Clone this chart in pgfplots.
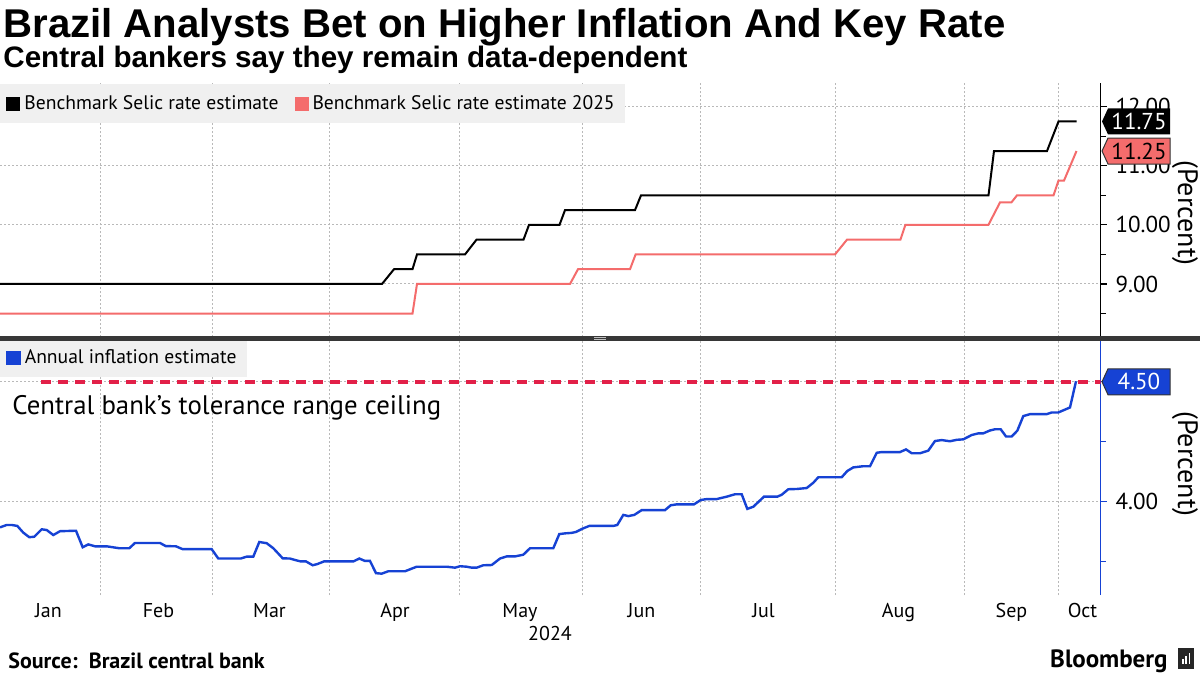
\documentclass[border=0pt]{standalone}
\usepackage{pgfplots}
\pgfplotsset{compat=1.18}
\usepackage{fontspec}
\setmainfont{PT Sans}
\setsansfont{PT Sans}
\newfontfamily\titlefont{Liberation Sans}

\definecolor{selicred}{RGB}{244,108,108}
\definecolor{bbblue}{RGB}{22,66,212}
\definecolor{ceilred}{RGB}{226,32,72}
\definecolor{gridgray}{RGB}{185,185,185}
\definecolor{legbg}{RGB}{240,240,240}
\definecolor{sepgray}{RGB}{55,55,55}

% common look of both panels (1 px of the reference = 0.5pt)
\pgfplotsset{
  panel/.style={
    scale only axis, width=550.3pt, height=127pt,
    xmin=0, xmax=1100.6,
    axis y line*=right, axis x line*=bottom,
    x axis line style={draw=none},
    xtick={100.6,212.3,329.3,459.3,582.6,700.7,835.3,964.3,1058.6},
    xticklabels={},
    xtick style={draw=none},
    grid=major,
    major grid style={gridgray, line width=0.5pt, dash pattern=on 1pt off 1pt},
    tick align=outside, major tick length=3pt, minor tick length=2.5pt,
    /pgf/number format/assume math mode=true,
    yticklabel={\pgfmathprintnumber[fixed,fixed zerofill,precision=2]{\tick}},
    yticklabel style={font=\fontsize{11.5}{12}\selectfont, anchor=west, xshift=1pt},
    legend cell align=left,
    legend image code/.code={\fill[##1] (0pt,-3pt) rectangle (6pt,3pt);},
  }
}

\begin{document}
\begin{tikzpicture}
\useasboundingbox (0,0) rectangle (600pt,-337.5pt);
\fill[white] (0,0) rectangle (600pt,-337.5pt);

\node[anchor=base west, inner sep=0] at (1.5pt,-18.5pt)
  {\resizebox{501pt}{!}{\titlefont\bfseries Brazil Analysts Bet on Higher Inflation And Key Rate}};
\node[anchor=base west, inner sep=0] at (1.5pt,-33.5pt)
  {\resizebox{342pt}{!}{\titlefont\bfseries Central bankers say they remain data-dependent}};

% ---------------- top panel: Selic expectations
\begin{axis}[panel,
  at={(0pt,-41.5pt)}, anchor=north west,
  ymin=8.103, ymax=12.401,
  ytick={9,10,11,12}, minor ytick={8.5,9.5,10.5,11.5},
  y axis line style={black, line width=0.7pt},
  ytick style={black, line width=0.6pt},
  legend columns=2,
  legend style={at={(0,1)}, anchor=north west, yshift=-0.5pt,
    fill=legbg, draw=none, font=\fontsize{9.8}{11}\selectfont,
    inner xsep=3pt, inner ysep=3.5pt,
    /tikz/every even column/.append style={column sep=6pt}},
]
\addplot[color=black, line width=1pt] coordinates {
  (0,9) (382,9) (394,9.25) (412.5,9.25) (417,9.5) (465,9.5) (476.5,9.75)
  (523.5,9.75) (529,10) (559.5,10) (565,10.25) (635,10.25) (641,10.5)
  (988.5,10.5) (994,11.25) (1047,11.25) (1058.5,11.75) (1076.5,11.75)
};
\addlegendentry{Benchmark Selic rate estimate}
\addplot[color=selicred, line width=1pt] coordinates {
  (0,8.5) (412.5,8.5) (417,9) (570,9) (578,9.25) (630,9.25) (635.6,9.5)
  (835,9.5) (847,9.75) (900.4,9.75) (905.4,10) (988.4,10) (1000,10.38)
  (1011.4,10.38) (1017,10.5) (1053.5,10.5) (1058.5,10.75) (1064,10.75)
  (1076.5,11.25)
};
\addlegendentry{Benchmark Selic rate estimate 2025}
\coordinate (tagA) at (axis cs:1100.6,11.75);
\coordinate (tagB) at (axis cs:1100.6,11.25);
\end{axis}

% ---------------- bottom panel: inflation expectations
\begin{axis}[panel,
  at={(0pt,-170.5pt)}, anchor=north west,
  ymin=3.611, ymax=4.670,
  ytick={4,4.5}, minor ytick={3.75,4.25},
  y axis line style={bbblue, line width=0.7pt},
  ytick style={bbblue, line width=0.6pt},
  extra x ticks={48.5,158.5,269.5,395,520,641.5,763.5,898.5,1011.5,1082.5},
  extra x tick labels={Jan,Feb,Mar,Apr,May,Jun,Jul,Aug,Sep,Oct},
  extra x tick style={grid=none, major tick length=0pt},
  xticklabel style={anchor=base, yshift=-11pt, font=\fontsize{10}{12}\selectfont},
  legend style={at={(0,1)}, anchor=north west, yshift=1.5pt,
    fill=legbg, draw=none, font=\fontsize{9.8}{11}\selectfont,
    inner xsep=3pt, inner ysep=3.5pt},
]
\addplot[ceilred, line width=2pt, dash pattern=on 5pt off 3.5pt, forget plot]
  coordinates {(41,4.5) (1100.6,4.5)};
\addplot[color=bbblue, line width=1.2pt] coordinates {
  (0,3.893) (6.7,3.903) (11.7,3.903) (17.3,3.899) (23.3,3.871) (29.3,3.852)
  (34.3,3.854) (41.7,3.885) (46.7,3.882) (53.3,3.861) (60,3.877) (76,3.879)
  (82.7,3.810) (88.3,3.822) (95,3.814) (106.7,3.814) (119.3,3.806)
  (129.3,3.806) (135,3.828) (160,3.828) (165.7,3.815) (176,3.814)
  (182.7,3.802) (211.7,3.802) (218.3,3.763) (240.7,3.763) (246.7,3.771)
  (253.3,3.771) (259.3,3.832) (266.7,3.827) (273.3,3.806) (282.7,3.764)
  (290,3.763) (295,3.757) (300.7,3.751) (306,3.751) (312.7,3.735)
  (317.3,3.740) (324,3.751) (353.3,3.751) (359.3,3.763) (365,3.753)
  (370,3.753) (376,3.702) (381.7,3.700) (388.3,3.710) (405,3.710)
  (416.7,3.729) (446.7,3.729) (455,3.725) (460,3.731) (466.7,3.729)
  (471.7,3.725) (476.7,3.725) (483.3,3.735) (491.7,3.736) (500,3.763)
  (506.7,3.772) (515,3.772) (523.3,3.779) (530,3.806) (553.3,3.806)
  (559.3,3.865) (565,3.868) (571.7,3.870) (576,3.874) (582.7,3.888)
  (589.3,3.899) (613.3,3.899) (617.3,3.903) (623.3,3.945) (628.3,3.940)
  (634.3,3.945) (641.7,3.965) (665,3.965) (670.7,3.985) (676.7,3.989)
  (694,3.989) (700.7,4.007) (706.7,4.011) (716.7,4.011) (726.7,4.021)
  (735,4.031) (741.7,4.031) (747.3,3.970) (753.3,3.979) (764,4.021)
  (777.3,4.021) (781.7,4.029) (788.3,4.052) (796.7,4.053) (806.7,4.057)
  (813.3,4.079) (818.3,4.102) (841.7,4.102) (847.3,4.128) (853.3,4.143)
  (863.3,4.148) (870,4.148) (876.7,4.204) (881.7,4.207) (900,4.207)
  (906,4.218) (911.7,4.202) (920,4.202) (928.3,4.213) (935,4.253)
  (941.7,4.257) (950,4.252) (956.7,4.258) (963.3,4.260) (971.7,4.278)
  (978.3,4.285) (983.3,4.285) (990,4.297) (995,4.302) (1000.7,4.302)
  (1006,4.272) (1011.7,4.272) (1017.3,4.296) (1023.3,4.357) (1030,4.365)
  (1046.7,4.365) (1051.7,4.372) (1058.3,4.372) (1070,4.393) (1076,4.502)
};
\addlegendentry{Annual inflation estimate}
\node[anchor=base west, inner sep=0, font=\fontsize{13.4}{15}\selectfont]
  at (axis cs:12,4.365) {Central bank{\char"0027}s tolerance range ceiling};
\coordinate (tagC) at (axis cs:1100.6,4.5);
\end{axis}

% value tags on the right axis
\fill[black] (tagA) ++(0.7pt,0) -- ++(3pt,6.5pt) -- ++(31pt,0) -- ++(0,-13pt) -- ++(-31pt,0) -- cycle;
\node[text=white, inner sep=0, font=\fontsize{11.5}{12}\selectfont] at ([xshift=19.2pt]tagA) {11.75};
\filldraw[fill=selicred, draw=black!80, line width=0.5pt] (tagB) ++(0.7pt,0) -- ++(3pt,6.5pt) -- ++(31pt,0) -- ++(0,-13pt) -- ++(-31pt,0) -- cycle;
\node[text=black, inner sep=0, font=\fontsize{11.5}{12}\selectfont] at ([xshift=19.2pt]tagB) {11.25};
\filldraw[fill=bbblue, draw=black!80, line width=0.5pt] (tagC) ++(0.7pt,0) -- ++(3pt,6.5pt) -- ++(31pt,0) -- ++(0,-13pt) -- ++(-31pt,0) -- cycle;
\node[text=white, inner sep=0, font=\fontsize{11.5}{12}\selectfont] at ([xshift=19.2pt]tagC) {4.50};

% axis titles
\node[rotate=-90, inner sep=0, font=\fontsize{14}{16}\selectfont] at (592.5pt,-106.5pt) {(Percent)};
\node[rotate=-90, inner sep=0, font=\fontsize{14}{16}\selectfont] at (592.5pt,-232pt) {(Percent)};

% panel separator
\fill[sepgray] (0,-168pt) rectangle (600pt,-170.5pt);
\draw[white!75!black, line width=0.4pt] (297pt,-168.8pt) -- (303pt,-168.8pt);
\draw[white!75!black, line width=0.4pt] (297pt,-169.7pt) -- (303pt,-169.7pt);

\node[anchor=base, inner sep=0, font=\fontsize{10}{12}\selectfont] at (275pt,-320pt) {2024};

\node[anchor=base west, inner sep=0, font=\bfseries\fontsize{11}{13}\selectfont] at (4pt,-334pt) {Source:\, Brazil central bank};
\node[anchor=base east, inner sep=0, font=\bfseries\fontsize{12.5}{14}\selectfont] at (584pt,-333.5pt) {Bloomberg};
\fill[black!85] (589pt,-334.5pt) rectangle (597pt,-324pt);
\foreach \h [count=\i] in {2.5,4,5.5} {
  \fill[white] (589.5pt+\i*1.6pt,-332pt) rectangle ++(0.9pt,\h pt);
}
\end{tikzpicture}
\end{document}
